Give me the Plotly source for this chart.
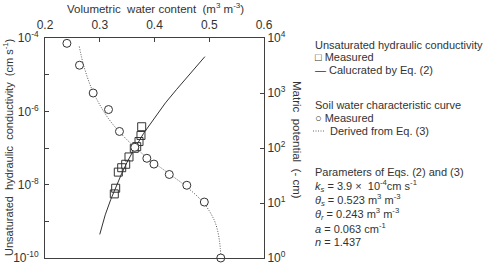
import plotly.graph_objects as go

# ---------------- data ----------------
# Measured unsaturated hydraulic conductivity (squares, left axis)
k_theta = [0.3766, 0.3753, 0.3717, 0.3675, 0.3631, 0.3534, 0.3474, 0.3401, 0.3339, 0.3291, 0.3266]
k_meas = [3.8e-7, 2.2e-7, 1.5e-7, 1.09e-7, 9.8e-8, 5.7e-8, 3.6e-8, 2.9e-8, 2.2e-8, 8.0e-9, 5.6e-9]

# Calculated curve (solid line, left axis)
kc_theta = [0.30, 0.31, 0.32, 0.33, 0.34, 0.35, 0.36, 0.38, 0.40, 0.42, 0.44, 0.46, 0.48, 0.492]
kc_vals = [4.4e-10, 1.5e-9, 3.9e-9, 9.4e-9, 2.0e-8, 4.1e-8, 7.8e-8, 2.5e-7, 6.7e-7, 1.7e-6, 3.9e-6, 8.6e-6, 1.9e-5, 3.1e-5]

# Measured soil water characteristic (circles, right axis)
h_theta = [0.240, 0.263, 0.288, 0.316, 0.336, 0.364, 0.386, 0.399, 0.427, 0.459, 0.491, 0.521]
h_meas = [8000, 3200, 1000, 500, 200, 103, 65, 51, 33, 21, 10.4, 1.0]

# Derived curve (dotted line, right axis)
hc_theta = [0.2626, 0.2713, 0.2888, 0.3202, 0.3657, 0.4038, 0.4344, 0.4577, 0.4898, 0.5086, 0.5157, 0.5188, 0.5202, 0.5214]
hc_vals = [7000, 3000, 1000, 300, 100, 50, 30, 20, 10, 5, 3, 2, 1.5, 1.0]

x_ticks = [0.2, 0.3, 0.4, 0.5, 0.6]
x_ticktext = ["0.2", "0.3", "0.4", "0.5", "0.6"]
k_tickvals = [1e-10, 1e-8, 1e-6, 1e-4]
k_ticktext = ["10<sup>-10</sup>", "10<sup>-8</sup>", "10<sup>-6</sup>", "10<sup>-4</sup>"]
k_minorvals = [1e-9, 1e-7, 1e-5]
h_tickvals = [1, 10, 100, 1000, 10000]
h_ticktext = ["10<sup>0</sup>", "10<sup>1</sup>", "10<sup>2</sup>", "10<sup>3</sup>", "10<sup>4</sup>"]

# ---------------- figure ----------------
W, H = 484, 264
L, R, T, B = 45, 264, 38, 258
FONT = "Liberation Sans, Arial, sans-serif"
TXT = "#333333"
AX = "#404040"


def px(X):
    return (X - L) / (R - L)


def py(Y):
    return (B - Y) / (B - T)


fig = go.Figure()
fig.add_trace(go.Scatter(x=kc_theta, y=kc_vals, mode="lines", yaxis="y",
                         line=dict(color="#333333", width=1), showlegend=False))
fig.add_trace(go.Scatter(x=hc_theta, y=hc_vals, mode="lines", yaxis="y2",
                         line=dict(color="#555555", width=1, dash="1px,1.5px", shape="spline"),
                         showlegend=False))
fig.add_trace(go.Scatter(x=k_theta, y=k_meas, mode="markers", yaxis="y",
                         marker=dict(symbol="square-open", size=8, color="#333333",
                                     line=dict(width=1)),
                         cliponaxis=False, showlegend=False))
fig.add_trace(go.Scatter(x=h_theta, y=h_meas, mode="markers", yaxis="y2",
                         marker=dict(symbol="circle", size=8, color="white",
                                     line=dict(width=1, color="#333333")),
                         cliponaxis=False, showlegend=False))

fig.update_layout(
    width=W, height=H,
    margin=dict(l=L, r=W - R, t=T, b=H - B, pad=0),
    paper_bgcolor="white", plot_bgcolor="white",
    font=dict(family=FONT, size=12, color=TXT),
    xaxis=dict(range=[0.2, 0.6], side="top", tickvals=x_ticks, ticktext=x_ticktext,
               ticks="inside", ticklen=4, tickcolor=AX, showgrid=False, zeroline=False,
               showline=True, linecolor=AX, linewidth=1, mirror=True,
               ticklabeloverflow="allow", automargin=False, ticklabelstandoff=3,
               tickfont=dict(size=12, color=TXT)),
    yaxis=dict(type="log", range=[-10, -4], tickvals=k_tickvals, ticktext=k_ticktext,
               ticks="inside", ticklen=4, tickcolor=AX, showgrid=False, zeroline=False,
               showline=True, linecolor=AX, linewidth=1, automargin=False,
               ticklabeloverflow="allow", ticklabelstandoff=3,
               minor=dict(tickvals=k_minorvals, ticks="inside", ticklen=4,
                          tickcolor=AX, showgrid=False),
               tickfont=dict(size=12, color=TXT)),
    yaxis2=dict(type="log", range=[0, 4], overlaying="y", side="right",
                tickvals=h_tickvals, ticktext=h_ticktext, automargin=False,
                ticks="inside", ticklen=4, tickcolor=AX, showgrid=False, zeroline=False,
                showline=True, linecolor=AX, linewidth=1,
                ticklabeloverflow="allow",
                tickfont=dict(size=12, color=TXT)),
)

ann = []
ann.append(dict(text="Volumetric  water content  (m<sup>3</sup> m<sup>-3</sup>)",
                x=px(155), y=py(8), xanchor="center", yanchor="middle", font=dict(size=11.5)))
ann.append(dict(text="Unsaturated  hydraulic  conductivity  (cm s<sup>-1</sup>)",
                x=px(8), y=py(148), textangle=-90, xanchor="center", yanchor="middle",
                font=dict(size=11)))
ann.append(dict(text="Matric  potential  (- cm)",
                x=px(297), y=py(140), textangle=90, xanchor="center", yanchor="middle",
                font=dict(size=11.5)))

legend_lines = [
    ("Unsaturated hydraulic conductivity", 313, 45),
    ("\u25a1 Measured", 313, 57),
    ("\u2014 Calucrated by Eq. (2)", 313, 70),
    ("Soil water characteristic curve", 313, 105),
    ("\u25cb Measured", 313, 118),
    ("Derived from Eq. (3)", 328, 131),
    ("Parameters of Eqs. (2) and (3)", 313, 172),
    ("<i>k<sub>s</sub></i> = 3.9 \u00d7  10<sup>-4</sup>cm s<sup>-1</sup>", 313, 186),
    ("<i>\u03b8<sub>s</sub></i> = 0.523 m<sup>3</sup> m<sup>-3</sup>", 313, 200),
    ("<i>\u03b8<sub>r</sub></i> = 0.243 m<sup>3</sup> m<sup>-3</sup>", 313, 214),
    ("<i>a</i> = 0.063 cm<sup>-1</sup>", 313, 228),
    ("<i>n</i> = 1.437", 313, 242),
]
for t, X, Y in legend_lines:
    ann.append(dict(text=t, x=px(X), y=py(Y), xanchor="left", yanchor="middle",
                    font=dict(size=11)))

for a in ann:
    a.update(xref="paper", yref="paper", showarrow=False)
fig.update_layout(annotations=ann)

fig.add_shape(type="line", xref="paper", yref="paper", x0=px(313), x1=px(325),
              y0=py(131), y1=py(131), line=dict(color="#666666", width=1, dash="1px,1.5px"))

fig.write_html("out.html")
